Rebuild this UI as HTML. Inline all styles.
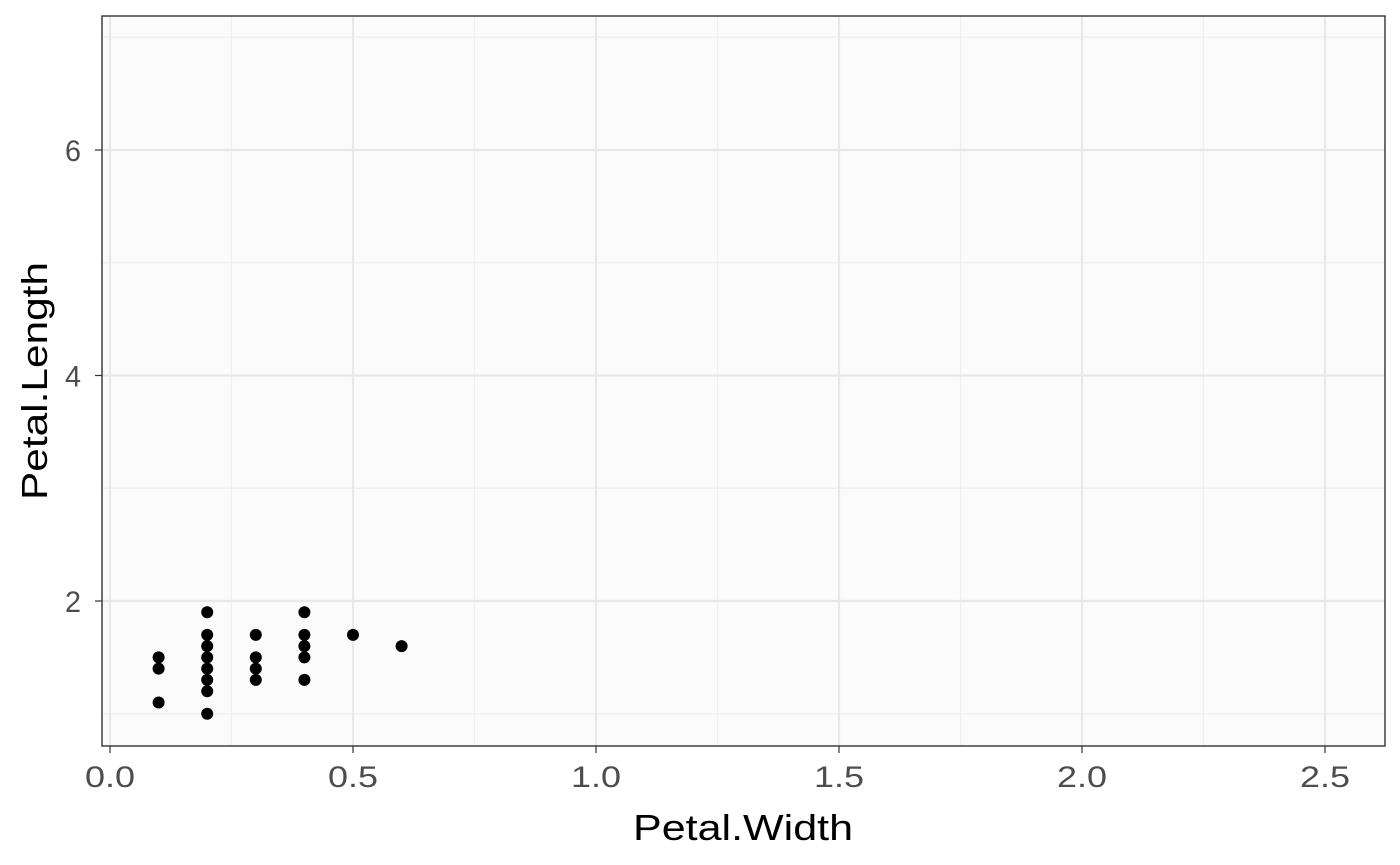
<!DOCTYPE html>
<html><head><meta charset="utf-8"><style>
html,body{margin:0;padding:0;background:#fff;}
svg{display:block;font-family:"Liberation Sans",sans-serif;}
</style></head><body>
<svg id="chart" width="1400" height="865"></svg>
<script>
const xTicks=[0.0,0.5,1.0,1.5,2.0,2.5];
const xTickLabels=["0.0","0.5","1.0","1.5","2.0","2.5"];
const xMinor=[0.25,0.75,1.25,1.75,2.25];
const yTicks=[2,4,6];
const yTickLabels=["2","4","6"];
const yMinor=[1,3,5,7];
const petalWidth=[0.1,0.1,0.1,0.2,0.2,0.2,0.2,0.2,0.2,0.2,0.2,0.3,0.3,0.3,0.3,0.4,0.4,0.4,0.4,0.4,0.5,0.6];
const petalLength=[1.5,1.4,1.1,1.9,1.7,1.6,1.5,1.4,1.3,1.2,1.0,1.7,1.5,1.4,1.3,1.9,1.7,1.6,1.5,1.3,1.7,1.6];

const NS="http://www.w3.org/2000/svg";
const svg=document.getElementById('chart');
const L=102,R=1385,T=16,B=746;
function xs(v){return 110+v*486;}
function ys(v){return 601-(v-2)*112.75;}
function mk(tag,attrs,parent){const e=document.createElementNS(NS,tag);for(const k in attrs)e.setAttribute(k,attrs[k]);(parent||svg).appendChild(e);return e;}

const bg=mk('rect',{x:L,y:T,width:R-L,height:B-T,fill:'#fbfbfb'});



xMinor.forEach(v=>{const l=mk('line',{x1:xs(v),x2:xs(v),y1:T,y2:B,stroke:'#efefef','stroke-width':1.2});

});
yMinor.forEach(v=>{const l=mk('line',{x1:L,x2:R,y1:ys(v),y2:ys(v),stroke:'#efefef','stroke-width':1.2});

});
xTicks.forEach((v,i)=>{const l=mk('line',{x1:xs(v),x2:xs(v),y1:T,y2:B,stroke:'#e8e8e8','stroke-width':2.2});


const tk=mk('line',{x1:xs(v),x2:xs(v),y1:B,y2:B+7,stroke:'#333','stroke-width':1.2});


const t=mk('text',{x:xs(v),y:B+41,'text-anchor':'middle','font-size':30,fill:'#4d4d4d',textLength:50,lengthAdjust:'spacingAndGlyphs'});t.textContent=xTickLabels[i];

});
yTicks.forEach((v,i)=>{const l=mk('line',{x1:L,x2:R,y1:ys(v),y2:ys(v),stroke:'#e8e8e8','stroke-width':2.2});


const tk=mk('line',{x1:L-7,x2:L,y1:ys(v),y2:ys(v),stroke:'#333','stroke-width':1.2});


const t=mk('text',{x:L-21,y:ys(v)+11,'text-anchor':'end','font-size':30,fill:'#4d4d4d',textLength:16,lengthAdjust:'spacingAndGlyphs'});t.textContent=yTickLabels[i];

});

petalWidth.forEach((w,i)=>{const c=mk('circle',{cx:xs(w),cy:ys(petalLength[i]),r:6,fill:'#000'});

});

const border=mk('rect',{x:L,y:T,width:R-L,height:B-T,fill:'none',stroke:'#333','stroke-width':1.4});



const xt=mk('text',{x:743,y:840,'text-anchor':'middle','font-size':36,fill:'#000',textLength:220,lengthAdjust:'spacingAndGlyphs'});xt.textContent='Petal.Width';


const yt=mk('text',{x:0,y:0,'text-anchor':'middle','font-size':36,fill:'#000',textLength:238,lengthAdjust:'spacingAndGlyphs',transform:'translate(47,381) rotate(-90)'});yt.textContent='Petal.Length';


</script>
</body></html>
